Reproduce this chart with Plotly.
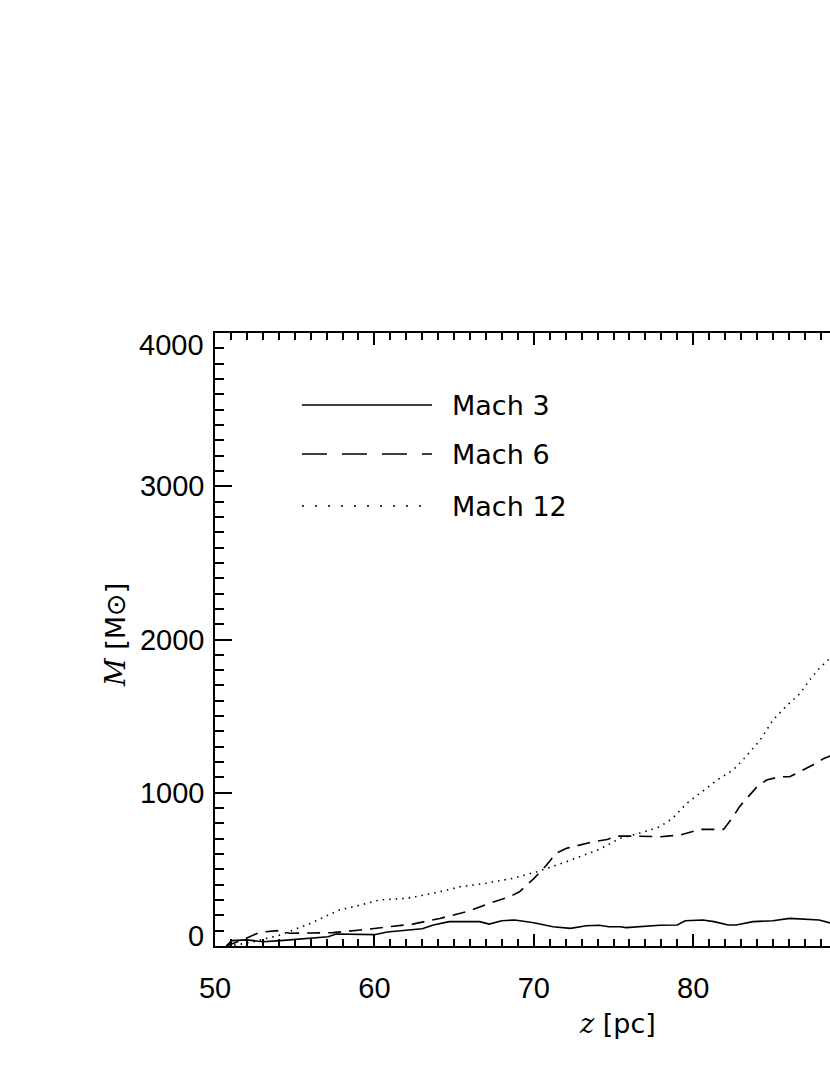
import plotly.graph_objects as go

# ---- data ----
z_mach3 = [50.7, 51.05, 52.0, 53.0, 54.1, 56.0, 57.1, 57.6, 58.9, 60.0, 60.8, 62.0, 63.0, 63.7,
           64.7, 65.8, 66.6, 67.2, 68.0, 68.8, 70.0, 71.2, 72.3, 73.3, 74.1, 74.7, 75.4, 75.8,
           76.9, 77.9, 79.0, 79.5, 80.6, 81.3, 82.2, 82.7, 83.75, 85.0, 86.05, 86.9, 87.9, 88.6]
m_mach3 = [0, 35, 40, 28, 35, 50, 60, 78, 74, 74, 91, 104, 113, 137,
           159, 159, 159, 143, 165, 170, 152, 126, 115, 132, 135, 126, 126, 120,
           130, 135, 137, 165, 170, 159, 137, 137, 159, 165, 180, 174, 170, 150]

z_mach6 = [50.7, 51.8, 52.8, 53.9, 54.7, 56.0, 57.4, 59.1, 60.8, 62.4, 64.1, 65.8, 67.2, 68.5,
           69.1, 70.0, 70.8, 71.4, 72.05, 72.9, 73.7, 74.6, 75.2, 76.2, 77.9, 79.2, 80.4, 81.9,
           82.5, 82.9, 84.0, 84.6, 85.4, 86.05, 86.9, 87.5, 88.2, 88.6]
m_mach6 = [0, 43, 89, 100, 83, 83, 87, 104, 122, 143, 180, 224, 278, 322,
           354, 440, 528, 605, 637, 659, 680, 695, 717, 717, 713, 724, 761, 761,
           843, 909, 1039, 1083, 1104, 1104, 1148, 1181, 1224, 1240]

z_mach12 = [50.8, 51.5, 52.4, 54.1, 56.0, 57.8, 59.1, 60.3, 62.0, 63.7, 65.4, 67.0, 68.7, 70.2,
            72.05, 74.1, 75.4, 76.6, 77.9, 78.7, 79.6, 80.4, 81.5, 82.5, 83.3, 84.2, 85.0, 85.8,
            86.7, 87.3, 87.9, 88.6]
m_mach12 = [0, 10, 28, 72, 148, 235, 267, 300, 311, 344, 387, 409, 442, 485,
            550, 630, 702, 735, 778, 833, 931, 996, 1083, 1148, 1235, 1344, 1474, 1561,
            1648, 1735, 1811, 1880]

series_names = ["Mach 3", "Mach 6", "Mach 12"]
x_tickvals = [50, 60, 70, 80]
x_ticktext = ["50", "60", "70", "80"]
y_tickvals = [0, 1000, 2000, 3000, 4000]
y_ticktext = ["0", "1000", "2000", "3000", "4000"]
x_range = [50, 88.58]
y_range = [0, 4000]

# ---- styles ----
data_dashes = ["solid", "13px,8px", "1.5px,5px"]
legend_dashes = ["solid", "25px,15px", "2px,11px"]
TICKFONT = dict(family="Liberation Sans", size=29, color="black")
LABFONT = dict(family="DejaVu Sans", size=27, color="black")

fig = go.Figure()
for zs, ms, name, dash in zip([z_mach3, z_mach6, z_mach12],
                              [m_mach3, m_mach6, m_mach12],
                              series_names, data_dashes):
    fig.add_trace(go.Scatter(x=zs, y=ms, mode="lines", name=name,
                             line=dict(color="black", width=1.6, dash=dash),
                             showlegend=False))

L, T, B = 215, 333, 946
PW, PH = 615, 613

def px(xp):
    return (xp - L) / PW

def py(yp):
    return (B - yp) / PH

# custom legend (long sample lines as in the reference)
leg_y = [405, 454, 506]
for name, dash, yy in zip(series_names, legend_dashes, leg_y):
    fig.add_shape(type="line", xref="paper", yref="paper",
                  x0=px(302), x1=px(432), y0=py(yy), y1=py(yy),
                  line=dict(color="black", width=1.6, dash=dash))
    fig.add_annotation(xref="paper", yref="paper", x=px(450), y=py(yy),
                       text=name, showarrow=False, xanchor="left", yanchor="middle",
                       font=LABFONT)

# axis titles
fig.add_annotation(xref="paper", yref="paper", x=px(617), y=py(1023),
                   text="<span style='font-family:DejaVu Serif'><i>z</i></span> [pc]",
                   showarrow=False, xanchor="center", yanchor="middle", font=LABFONT)
fig.add_annotation(xref="paper", yref="paper", x=px(115), y=py(635),
                   text="<span style='font-family:DejaVu Serif'><i>M</i></span> [M⊙]",
                   showarrow=False, xanchor="center", yanchor="middle", textangle=-90,
                   font=LABFONT)

# end labels of the y axis sit inside the axis span (as in the reference)
y_axis_text = [t if v not in (y_range[0], y_range[1]) else "" for v, t in zip(y_tickvals, y_ticktext)]
for v, t in zip(y_tickvals, y_ticktext):
    if v == y_range[0]:
        fig.add_annotation(xref="paper", yref="y", x=px(206), y=v, yshift=10,
                           text=t, showarrow=False, xanchor="right", yanchor="middle",
                           font=TICKFONT)
    elif v == y_range[1]:
        fig.add_annotation(xref="paper", yref="y", x=px(206), y=v, yshift=-12,
                           text=t, showarrow=False, xanchor="right", yanchor="middle",
                           font=TICKFONT)

fig.update_xaxes(range=x_range, showgrid=False, zeroline=False,
                 showline=True, linecolor="black", linewidth=1.5, mirror="ticks",
                 ticks="inside", ticklen=12, tickwidth=1.5, tickcolor="black",
                 tickvals=x_tickvals, ticktext=x_ticktext, tickfont=TICKFONT,
                 ticklabelstandoff=15,
                 minor=dict(dtick=1, tick0=50, ticks="inside", ticklen=7,
                            tickwidth=1.5, tickcolor="black", showgrid=False))
fig.update_yaxes(range=y_range, showgrid=False, zeroline=False,
                 showline=True, linecolor="black", linewidth=1.5, mirror=False,
                 ticks="inside", ticklen=17, tickwidth=1.5, tickcolor="black",
                 tickvals=y_tickvals, ticktext=y_axis_text, tickfont=TICKFONT,
                 ticklabelstandoff=3,
                 minor=dict(dtick=100, tick0=0, ticks="inside", ticklen=9,
                            tickwidth=1.5, tickcolor="black", showgrid=False))

fig.update_layout(width=830, height=1075,
                  margin=dict(l=L, r=830 - L - PW, t=T, b=1075 - B),
                  paper_bgcolor="white", plot_bgcolor="white")

fig.write_html("out.html", config={"displayModeBar": False},
               post_script="document.body.style.margin='0';document.body.style.overflow='hidden';")
